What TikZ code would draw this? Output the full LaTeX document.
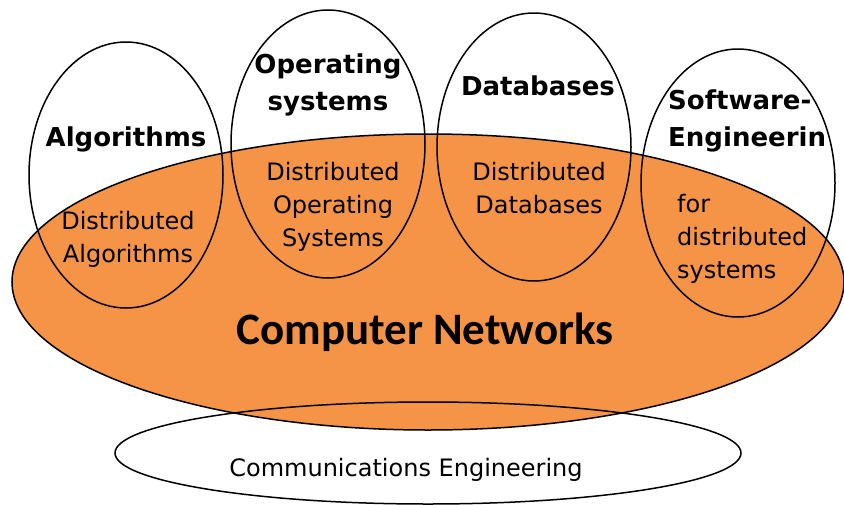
\documentclass[tikz,border=0pt]{standalone}
\usepackage{fontspec}
\setmainfont{DejaVu Sans}
\newfontfamily\netfont{Carlito}
\definecolor{netorange}{RGB}{245,148,70}
\tikzset{
  ring/.style={draw=black,line width=1.5pt},
  head/.style={font=\fontsize{26}{37}\selectfont\bfseries,align=center,inner sep=0pt},
  body/.style={font=\fontsize{24}{33}\selectfont,align=center,inner sep=0pt}
}
\begin{document}
\begin{tikzpicture}[x=1pt,y=-1pt]
\useasboundingbox (0,0) rectangle (844,504);
\fill[white] (0,0) rectangle (844,504);
\fill[netorange] (428,282) ellipse (416 and 148);
\draw[ring] (428,282) ellipse (416 and 148);
\draw[ring] (126,175) ellipse (97 and 133);
\draw[ring] (328,144) ellipse (97 and 134);
\draw[ring] (534,147) ellipse (97 and 134);
\draw[ring] (738,183) ellipse (97 and 134);
\draw[ring] (428,453) ellipse (313 and 51);

\node[head] (alg) at (126,139) {Algorithms};
\node[head] (os) at (328,85) {Operating\\systems};
\node[head] (db) at (538,86) {Databases};
\node[head,align=left,anchor=west] (se) at (668,121) {Software-\\Engineerin};

\node[body] (dalg) at (128,239) {Distributed\\Algorithms};
\node[body] (dos) at (333,207) {Distributed\\Operating\\Systems};
\node[body] (ddb) at (539,188) {Distributed\\Databases};
\node[body,align=left,anchor=west] (dse) at (677,239) {for\\distributed\\systems};

\node[font=\netfont\fontsize{45}{50}\selectfont\bfseries,inner sep=0pt] (net) at (425,332) {Computer Networks};
\node[body] (com) at (406,470) {Communications Engineering};
\end{tikzpicture}
\end{document}
